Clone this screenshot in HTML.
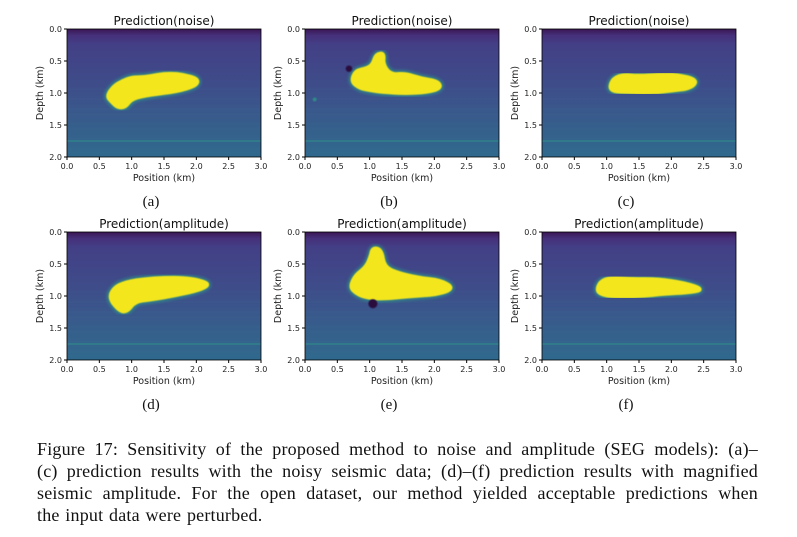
<!DOCTYPE html>
<html><head><meta charset="utf-8"><style>
body{margin:0;background:#fff;width:797px;height:537px;overflow:hidden;position:relative;font-family:"DejaVu Sans",sans-serif}
.cap{position:absolute;left:37px;width:721px;font-family:"Liberation Serif",serif;font-size:18px;letter-spacing:0.2px;word-spacing:1px;line-height:22px;text-align:justify;text-align-last:justify;color:#111;white-space:nowrap}
</style></head><body>
<svg id="s" width="797" height="537" style="position:absolute;left:0;top:0">
<defs>
<linearGradient id="g" x1="0" y1="0" x2="0" y2="1">
<stop offset="0" stop-color="#3a1553"/><stop offset="0.05" stop-color="#46307a"/>
<stop offset="0.12" stop-color="#433f86"/><stop offset="0.45" stop-color="#3e4d8a"/>
<stop offset="0.75" stop-color="#365e8c"/><stop offset="1" stop-color="#30698d"/>
</linearGradient>
<filter id="bl"><feGaussianBlur stdDeviation="1.6"/></filter>
<filter id="bl2"><feGaussianBlur stdDeviation="0.6"/></filter>
</defs>
</svg>
<div class="cap" style="top:438px">Figure 17: Sensitivity of the proposed method to noise and amplitude (SEG models): (a)–</div>
<div class="cap" style="top:460px">(c) prediction results with the noisy seismic data; (d)–(f) prediction results with magnified</div>
<div class="cap" style="top:482px">seismic amplitude. For the open dataset, our method yielded acceptable predictions when</div>
<div class="cap" style="top:504px;text-align-last:left">the input data were perturbed.</div>
<script>
const S=document.getElementById('s');let h='';
const W=194,H=128;
const blobs=[
[[0.62,1.05],[0.72,0.9],[0.85,0.82],[1.0,0.76],[1.2,0.76],[1.4,0.72],[1.6,0.7],[1.8,0.72],[2.02,0.78],[2.0,0.88],[1.7,0.97],[1.3,1.02],[1.0,1.08],[0.9,1.22],[0.78,1.22],[0.7,1.14]],
[[0.72,0.82],[0.78,0.66],[0.95,0.62],[1.05,0.56],[1.1,0.4],[1.22,0.38],[1.2,0.55],[1.32,0.72],[1.55,0.7],[1.8,0.78],[2.05,0.82],[2.1,0.92],[1.9,0.98],[1.55,1.0],[1.2,0.98],[1.0,0.95],[0.85,0.92]],
[[1.05,0.92],[1.1,0.78],[1.25,0.72],[1.5,0.74],[1.8,0.72],[2.1,0.72],[2.4,0.8],[2.3,0.92],[2.0,0.96],[1.7,0.99],[1.3,0.98],[1.12,0.97]],
[[0.65,1.02],[0.75,0.85],[0.95,0.78],[1.2,0.74],[1.5,0.72],[1.8,0.72],[2.05,0.76],[2.2,0.82],[2.05,0.9],[1.7,0.98],[1.3,1.05],[1.05,1.08],[0.92,1.25],[0.8,1.22]],
[[0.7,0.86],[0.78,0.68],[0.95,0.55],[1.02,0.38],[1.05,0.25],[1.18,0.28],[1.22,0.55],[1.45,0.65],[1.75,0.72],[2.1,0.76],[2.3,0.88],[2.05,0.97],[1.6,1.0],[1.2,1.04],[0.95,1.02],[0.8,0.96]],
[[0.85,0.92],[0.9,0.78],[1.05,0.72],[1.4,0.74],[1.8,0.74],[2.2,0.8],[2.5,0.9],[2.25,0.94],[1.9,0.96],[1.5,1.0],[1.1,1.0],[0.95,0.98]]];
const dots=[[],[[0.68,0.62,0.05,'#2a0e3c'],[0.15,1.1,0.03,'#2f8a86']],[],[],[[1.05,1.12,0.07,'#2a0e3c']],[]];
const xs=[67,305,542],ys=[29,232],labs='abcdef';
function sm(pts){let d='';const n=pts.length;for(let k=0;k<n;k++){const a=pts[k],b=pts[(k+1)%n];const m=[(a[0]+b[0])/2,(a[1]+b[1])/2];if(k==0){const z=pts[n-1];d+='M'+((z[0]+a[0])/2).toFixed(1)+','+((z[1]+a[1])/2).toFixed(1);}d+=' Q'+a[0].toFixed(1)+','+a[1].toFixed(1)+' '+m[0].toFixed(1)+','+m[1].toFixed(1);}return d+'Z';}
for(let r=0;r<2;r++)for(let c=0;c<3;c++){
const i=r*3+c,x0=xs[c],y0=ys[r];
h+=`<rect x="${x0}" y="${y0}" width="${W}" height="${H}" fill="url(#g)"/>`;
for(let k=0;k<8;k++){const yy=y0+60+k*8+(k*7%5);h+=`<line x1="${x0}" x2="${x0+W}" y1="${yy}" y2="${yy}" stroke="#4a7a94" stroke-width="0.6" opacity=".25"/>`;}
h+=`<line x1="${x0}" x2="${x0+W}" y1="${y0+112}" y2="${y0+112}" stroke="#2fa08c" stroke-width="1.2" opacity=".6"/>`;
const pts=blobs[i].map(q=>[x0+q[0]*W/3,y0+q[1]*H/2]);
const d=sm(pts);
h+=`<path d="${d}" fill="#2a9a88" stroke="#2a9a88" stroke-width="8" stroke-linejoin="round" filter="url(#bl)" opacity=".75"/>`;
h+=`<path d="${d}" fill="#f4e61c" stroke="#f4e61c" stroke-width="4.5" stroke-linejoin="round" filter="url(#bl2)"/>`;
dots[i].forEach(q=>{h+=`<circle cx="${x0+q[0]*W/3}" cy="${y0+q[1]*H/2}" r="${q[2]*W/3}" fill="${q[3]}" filter="url(#bl2)"/>`;});
h+=`<rect x="${x0}" y="${y0}" width="${W}" height="${H}" fill="none" stroke="#000" stroke-width="0.8"/>`;
for(let k=0;k<=6;k++){const tx=x0+k*W/6;h+=`<line x1="${tx}" x2="${tx}" y1="${y0+H}" y2="${y0+H+3}" stroke="#000"/><text x="${tx}" y="${y0+H+12}" font-size="8" text-anchor="middle" fill="#222">${(k*0.5).toFixed(1)}</text>`;}
for(let k=0;k<=4;k++){const ty=y0+k*H/4;h+=`<line x1="${x0-3}" x2="${x0}" y1="${ty}" y2="${ty}" stroke="#000"/><text x="${x0-5}" y="${ty+3}" font-size="8" text-anchor="end" fill="#222">${(k*0.5).toFixed(1)}</text>`;}
h+=`<text x="${x0+W/2}" y="${y0+H+24}" font-size="9.5" text-anchor="middle" fill="#222">Position (km)</text>`;
h+=`<text transform="translate(${x0-24},${y0+H/2}) rotate(-90)" font-size="9.5" text-anchor="middle" fill="#222">Depth (km)</text>`;
h+=`<text x="${x0+W/2}" y="${y0-4}" font-size="12" text-anchor="middle" fill="#111">${r?'Prediction(amplitude)':'Prediction(noise)'}</text>`;
h+=`<text x="${x0+W/2-13}" y="${y0+H+49}" font-size="15" font-family="Liberation Serif,serif" text-anchor="middle" fill="#111">(${labs[i]})</text>`;
}
S.innerHTML+=h;
</script>
</body></html>
